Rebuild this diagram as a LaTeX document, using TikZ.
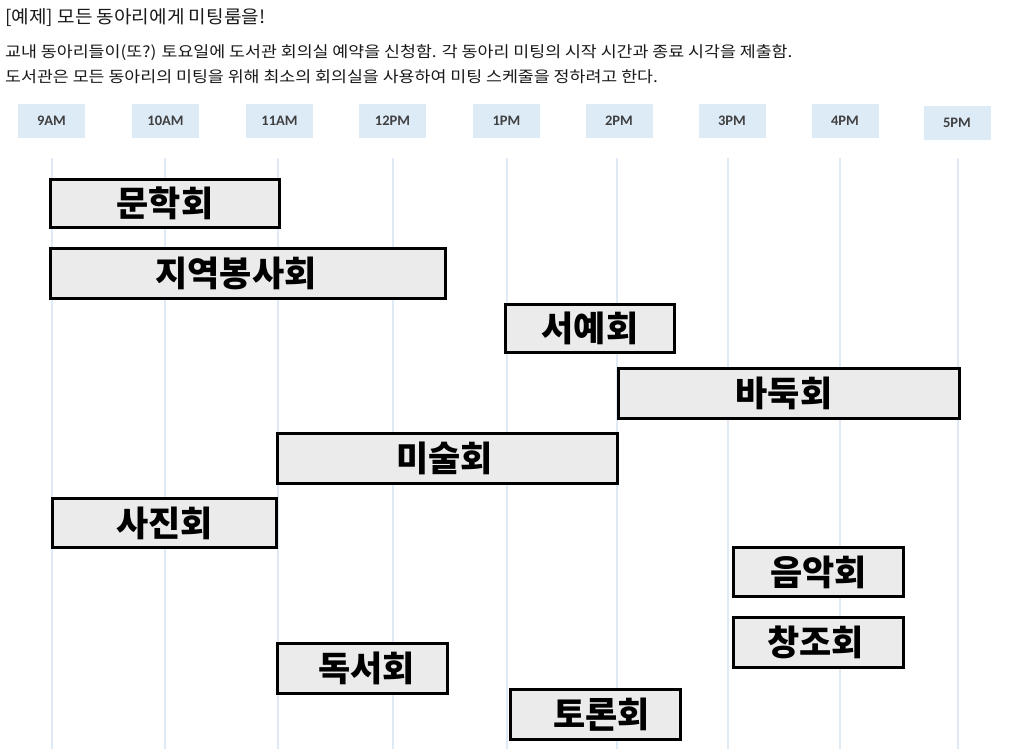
\documentclass[tikz,border=0pt]{standalone}
\usepackage{fontspec}
\newfontfamily\kr{Noto Sans CJK KR}
\newfontfamily\lab{Carlito}
\definecolor{gridc}{HTML}{E0EAF5}
\definecolor{labfill}{HTML}{DDEBF7}
\definecolor{labtext}{HTML}{404040}
\definecolor{boxfill}{HTML}{EBEBEB}
\tikzset{
  timelab/.style={fill=labfill, draw=none, minimum width=67pt, minimum height=34pt, inner sep=0pt,
    font=\lab\bfseries\fontsize{14.5}{16}\selectfont, text=labtext},
  clubbox/.style={draw=black, line width=3pt, fill=boxfill, inner sep=0pt,
    font=\kr\bfseries\fontsize{35}{38}\selectfont},
  gridline/.style={draw=gridc, line width=1.4pt},
  hdr/.style={anchor=base west, inner sep=0pt, font=\kr\fontsize{15.5}{18}\selectfont, text=black!90}
}
\begin{document}
\begin{tikzpicture}[x=1pt,y=-1pt]
\useasboundingbox (0,0) rectangle (1027,749);
\fill[white] (0,0) rectangle (1027,749);
% header
\node[hdr, font=\kr\fontsize{18}{21}\selectfont] (title) at (5,24) {\scalebox{1.06}[1]{[예제] 모든 동아리에게 미팅룸을!}};
\node[hdr] (line1) at (5,58) {\scalebox{1.117}[1]{교내 동아리들이(또?) 토요일에 도서관 회의실 예약을 신청함. 각 동아리 미팅의 시작 시간과 종료 시각을 제출함.}};
\node[hdr] (line2) at (5,83) {\scalebox{1.117}[1]{도서관은 모든 동아리의 미팅을 위해 최소의 회의실을 사용하여 미팅 스케줄을 정하려고 한다.}};
% time labels
\node[timelab] (t9) at (51.5,121) {9AM};
\node[timelab] (t10) at (165.5,121) {10AM};
\node[timelab] (t11) at (279.5,121) {11AM};
\node[timelab] (t12) at (392.5,121) {12PM};
\node[timelab] (t1) at (506.5,121) {1PM};
\node[timelab] (t2) at (619,121) {2PM};
\node[timelab] (t3) at (732,121) {3PM};
\node[timelab] (t4) at (845,121) {4PM};
\node[timelab] (t5) at (957,123) {5PM};
% grid lines
\foreach \x/\n in {52/g9,165/g10,278/g11,393/g12,507/g1,617/g2,728/g3,840/g4,958/g5}{
  \coordinate (\n top) at (\x,158);
  \coordinate (\n bot) at (\x,749);
  \draw[gridline] (\n top) -- (\n bot);
}
% club boxes
\node[clubbox, minimum width=229pt, minimum height=48pt] (munhak) at (165,203) {문학회};
\node[clubbox, minimum width=395pt, minimum height=50pt] (jiyeok) at (248,273) {\hspace*{-24pt}지역봉사회};
\node[clubbox, minimum width=169pt, minimum height=48pt] (seoye) at (590,328.5) {서예회};
\node[clubbox, minimum width=341pt, minimum height=50pt] (baduk) at (789,393.5) {\hspace*{-10pt}바둑회};
\node[clubbox, minimum width=340pt, minimum height=50pt] (misul) at (447.5,458.5) {\hspace*{-6pt}미술회};
\node[clubbox, minimum width=224pt, minimum height=49pt] (sajin) at (164.5,523) {사진회};
\node[clubbox, minimum width=170pt, minimum height=49pt] (eumak) at (818.5,572) {음악회};
\node[clubbox, minimum width=170pt, minimum height=50pt] (changjo) at (818.5,642.5) {\hspace*{-6pt}창조회};
\node[clubbox, minimum width=170pt, minimum height=50pt] (dokseo) at (362.5,668.5) {\hspace*{8pt}독서회};
\node[clubbox, minimum width=170pt, minimum height=50pt] (toron) at (595.5,714.5) {\hspace*{12pt}토론회};
\end{tikzpicture}
\end{document}
